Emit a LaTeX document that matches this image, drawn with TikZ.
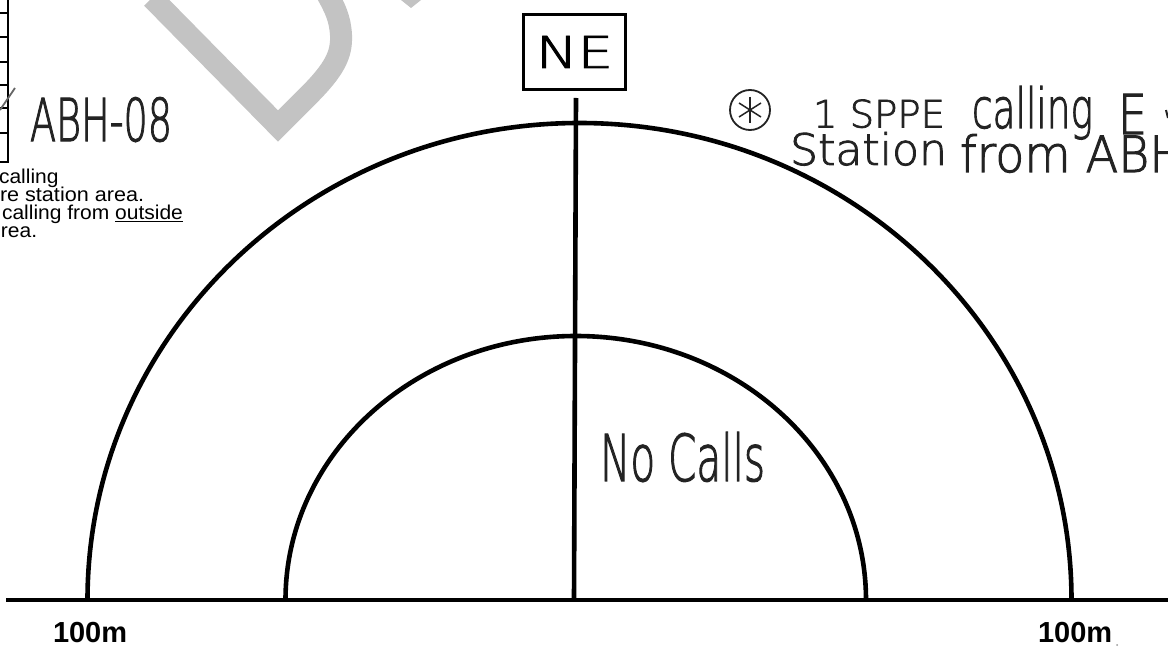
\documentclass[tikz,border=0pt]{standalone}
\usepackage{fontspec}
\setmainfont{Liberation Sans}
\newfontfamily\hand{DejaVu Sans ExtraLight}[FakeBold=2]
\definecolor{wm}{RGB}{195,195,195}
\definecolor{pen}{RGB}{35,35,35}
\begin{document}
\begin{tikzpicture}[x=1pt,y=-1pt]
\tikzset{
  ink/.style={line width=4.6pt, black},
  thin/.style={line width=2pt, black},
  hw/.style={inner sep=0pt, outer sep=0pt, text=pen},
  prt/.style={inner sep=0pt, outer sep=0pt, font=\fontsize{20}{20}\selectfont},
  big/.style={inner sep=0pt, outer sep=0pt, font=\fontsize{29}{29}\selectfont\bfseries},
  boxst/.style={draw, line width=3pt, minimum width=102pt, minimum height=75pt, inner sep=0pt}
}
\useasboundingbox (0,0) rectangle (1168,655);
\clip (0,0) rectangle (1168,655);
\fill[white] (0,0) rectangle (1168,655);

% watermark fragment
\draw[wm, line width=22pt, line join=miter] (152,-2) -- (278,126) -- (308,96)
  .. controls (334,70) and (342,55) .. (341,35) .. controls (340,18) and (335,8) .. (326,-8);
\fill[wm] (401,0) -- (411,8) -- (421,0) -- cycle;

% left table fragment
\draw[thin] (8,-2) -- (8,163);
\foreach \yy in {13,37,62,85,108,133,162} \draw[line width=1.6pt] (-1,\yy) -- (8,\yy);
\draw[line width=1.8pt, black!60] (0,110) -- (15,88);

% left printed text
\node[prt, anchor=base west] (t1) at (-1,184) {\scalebox{1.05}[1]{calling}};
\node[prt, anchor=base west] (t2) at (0,202) {\scalebox{1.08}[1]{re station area.}};
\node[prt, anchor=base west] (t3) at (2,220) {\scalebox{1.05}[1]{calling from \underline{outside}}};
\node[prt, anchor=base west] (t4) at (1,238) {\scalebox{1.05}[1]{rea.}};

% handwritten ABH-08
\node[hw, anchor=south west] (abh) at (30,142) {\resizebox{142pt}{44pt}{\hand ABH-08}};

% NE box and vertical line
\node[boxst] (ne) at (574.5,52) {\resizebox{77pt}{32pt}{\hand NE}};
\coordinate (top) at (576,98);
\coordinate (base) at (574,600);
\draw[ink] (top) -- (base);

% baseline and arcs
\coordinate (bl) at (6,600);
\coordinate (br) at (1172,600);
\draw[ink] (bl) -- (br);
\draw[ink] (87.5,600) arc[start angle=180, end angle=360, x radius=492, y radius=477];
\draw[ink] (285.5,600) arc[start angle=180, end angle=360, x radius=290.25, y radius=264];

% labels
\node[big, anchor=base west] (l100) at (53,642) {100m};
\node[big, anchor=base west] (r100) at (1038,642) {100m};
\fill[black!40] (1117,645) circle (1);

% No Calls
\node[hw, anchor=south west] (nocalls) at (600,482) {\resizebox{165pt}{49pt}{\hand No Calls}};

% top right note
\node[circle, draw=pen, line width=1.8pt, minimum size=40pt, inner sep=0pt] (star) at (750,110) {};
\draw[pen, line width=1.5pt] (star.center) ++(0,-13) -- ++(0,26);
\draw[pen, line width=1.5pt] (star.center) ++(-11,-7) -- ++(22,14);
\draw[pen, line width=1.5pt] (star.center) ++(11,-7) -- ++(-22,14);
\node[hw, anchor=south west] (sppe) at (813,128) {\resizebox{132pt}{28pt}{\hand 1 SPPE}};
\node[hw, anchor=base west] (calling) at (972,128) {\resizebox{121pt}{42pt}{\hand calling}};
\node[hw, anchor=south west] (e) at (1118,134) {\resizebox{29pt}{40pt}{\hand E}};
\draw[pen, line width=2pt] (1166,110) -- (1168,118);
\node[hw, anchor=base west] (station) at (790,165) {\resizebox{157pt}{33pt}{\hand Station}};
\node[hw, anchor=base west] (from) at (960,172) {\resizebox{225pt}{38pt}{\hand from ABH}};
\end{tikzpicture}
\end{document}
